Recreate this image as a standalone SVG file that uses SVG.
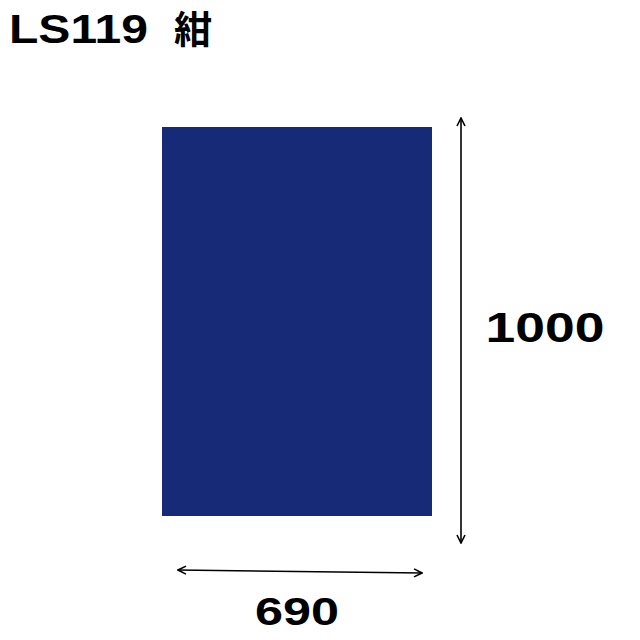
<svg xmlns="http://www.w3.org/2000/svg" width="640" height="640" viewBox="0 0 640 640">
<style>
.t{font-family:"Liberation Sans","Noto Sans CJK JP",Arial,sans-serif;font-weight:bold;fill:#000}
.dim{stroke:#000;stroke-width:1.6;fill:none}
</style>
<defs>
<marker id="ah" viewBox="0 0 10 10" refX="9" refY="5" markerWidth="10" markerHeight="10" markerUnits="userSpaceOnUse" orient="auto-start-reverse">
<path d="M1,1 L9,5 L1,9" fill="none" stroke="#000" stroke-width="1.6"/>
</marker>
</defs>
<rect width="640" height="640" fill="#fff"/>
<g id="title"><text class="t" x="9" y="43" font-size="41" textLength="139" lengthAdjust="spacingAndGlyphs">LS119</text><text class="t" x="174" y="43" font-size="38">紺</text></g>
<g id="sheet"><rect x="162" y="127" width="270" height="389" fill="#172a78"/></g>
<g id="connectors">
<line class="dim" x1="461" y1="118" x2="461" y2="543" marker-start="url(#ah)" marker-end="url(#ah)"/>
<line class="dim" x1="178" y1="570" x2="422" y2="573" marker-start="url(#ah)" marker-end="url(#ah)"/>
</g>
<g id="label-height"><text class="t" x="485.5" y="342" font-size="42" textLength="119" lengthAdjust="spacingAndGlyphs">1000</text></g>
<g id="label-width"><text class="t" x="255" y="625" font-size="39" textLength="84" lengthAdjust="spacingAndGlyphs">690</text></g>
</svg>
